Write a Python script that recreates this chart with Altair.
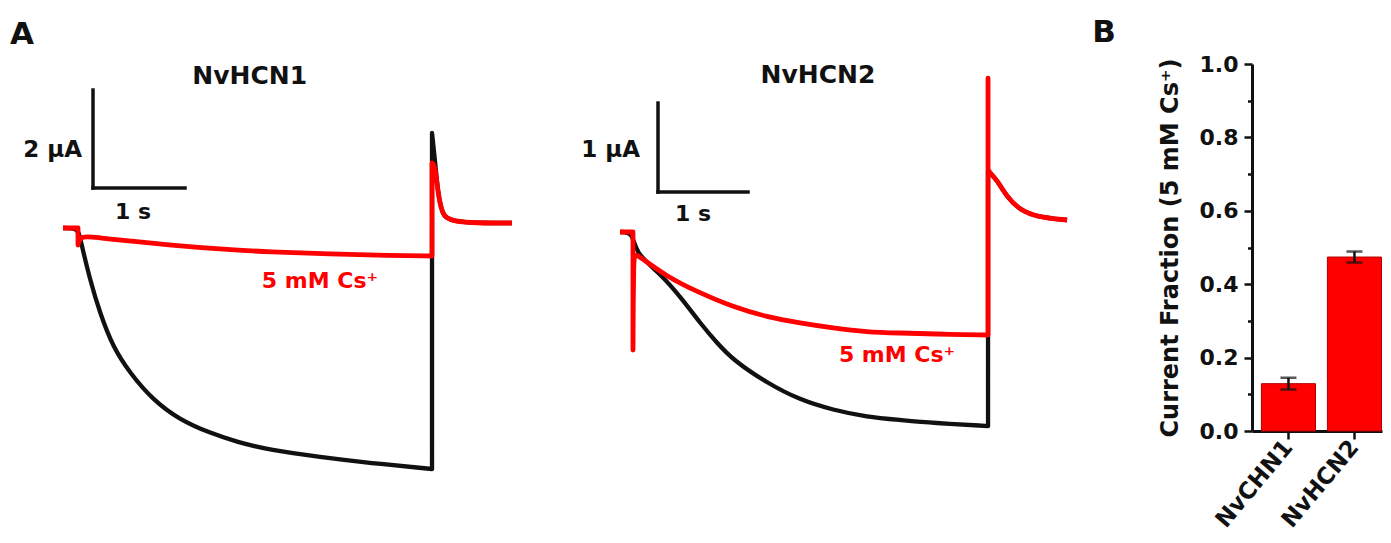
import altair as alt
import pandas as pd

FONT = "DejaVu Sans"
RED = "#FF0000"
BLACK = "#111111"

# ---------------- Panel A, NvHCN1 (time in s, current in uA) ----------------
hcn1_ctrl_t = [0.000, 0.163, 0.185, 0.293, 0.402, 0.543, 0.728, 0.978, 1.272, 1.598,
               1.891, 2.250, 2.793, 3.337, 4.011, 4.011, 4.043, 4.076, 4.109, 4.141,
               4.207, 4.391, 4.880]
hcn1_ctrl_i = [0.000, 0.000, -0.204, -1.061, -1.735, -2.429, -2.959, -3.510, -3.918, -4.184,
               -4.367, -4.531, -4.673, -4.796, -4.918, 1.939, 1.388, 0.714, 0.408, 0.245,
               0.163, 0.102, 0.102]
hcn1_cs_t = [0.000, 0.163, 0.163, 0.185, 0.402, 0.728, 1.163, 1.707, 2.250, 2.902,
             3.554, 4.011, 4.011, 4.043, 4.076, 4.109, 4.141, 4.207, 4.391, 4.880]
hcn1_cs_i = [0.000, 0.000, -0.347, -0.143, -0.204, -0.265, -0.347, -0.429, -0.490, -0.531,
             -0.561, -0.571, 1.327, 1.286, 0.714, 0.408, 0.245, 0.163, 0.102, 0.102]

# ---------------- Panel A, NvHCN2 ----------------
hcn2_ctrl_t = [0.000, 0.144, 0.167, 0.444, 0.700, 0.889, 1.078, 1.256, 1.633, 2.000,
               2.367, 2.744, 3.111, 3.478, 4.089, 4.089, 4.111, 4.189, 4.300, 4.444,
               4.633, 4.967]
hcn2_ctrl_i = [0.000, 0.000, -0.236, -0.461, -0.764, -1.022, -1.247, -1.438, -1.697, -1.888,
               -2.000, -2.079, -2.112, -2.146, -2.180, 0.700, 0.663, 0.584, 0.393, 0.247,
               0.169, 0.135]
hcn2_cs_t = [0.000, 0.144, 0.144, 0.150, 0.167, 0.522, 0.889, 1.256, 1.633, 2.000,
             2.367, 2.744, 3.111, 3.478, 4.089, 4.089, 4.089, 4.111, 4.189, 4.300,
             4.444, 4.633, 4.967]
hcn2_cs_i = [0.000, 0.000, -1.326, -0.250, -0.236, -0.506, -0.685, -0.843, -0.955, -1.022,
             -1.079, -1.124, -1.135, -1.146, -1.157, 1.730, 0.700, 0.663, 0.584, 0.393,
             0.247, 0.169, 0.135]

# scale bars: (anchor t, anchor i, seconds, microamps)
hcn1_scalebar = [0.326, 0.816, 1.0, 2.0]
hcn2_scalebar = [0.422, 0.449, 1.0, 1.0]

# ---------------- Panel B ----------------
categories = ["NvCHN1", "NvHCN2"]
fraction_mean = [0.129, 0.474]
fraction_sem = [0.016, 0.015]
major_ticks = [0.0, 0.2, 0.4, 0.6, 0.8, 1.0]
minor_ticks = [0.1, 0.3, 0.5, 0.7, 0.9]


def trace_df(t, i):
    # corner points (ends of the vertical voltage-step jumps) are repeated so that
    # the smoothing spline keeps the corner sharp
    rows = []
    n = len(t)
    for j in range(n):
        corner = (j > 0 and t[j - 1] == t[j]) or (j < n - 1 and t[j + 1] == t[j]) \
            or j in (0, n - 1)
        for _ in range(3 if corner else 1):
            rows.append((t[j], i[j]))
    return pd.DataFrame({"t": [r[0] for r in rows], "i": [r[1] for r in rows],
                         "k": list(range(len(rows)))})


def scalebar_df(sb):
    t0, i0, dt, di = sb
    return pd.DataFrame({"t": [t0, t0], "t2": [t0, t0 + dt],
                         "i": [i0, i0], "i2": [i0 + di, i0]})


def trace_panel(ctrl, cs, sb, xdom, ydom, w, h, title, title_pos, ua_text, ua_pos,
                s_pos, cs_pos, letter=None, letter_pos=None):
    X = alt.X("t:Q", scale=alt.Scale(domain=xdom, nice=False, zero=False), axis=None)
    Y = alt.Y("i:Q", scale=alt.Scale(domain=ydom, nice=False, zero=False), axis=None)
    black = alt.Chart(trace_df(*ctrl)).mark_line(
        color=BLACK, strokeWidth=4.3, strokeJoin="round", interpolate="basis", clip=True
    ).encode(x=X, y=Y, order="k:Q")
    red = alt.Chart(trace_df(*cs)).mark_line(
        color=RED, strokeWidth=4.8, strokeJoin="round", interpolate="basis", clip=True
    ).encode(x=X, y=Y, order="k:Q")
    bar = alt.Chart(scalebar_df(sb)).mark_rule(
        color=BLACK, strokeWidth=3.5, strokeCap="square"
    ).encode(x=X, x2="t2:Q", y=Y, y2="i2:Q")

    def txt(pos, label, size, color=BLACK, align="center", weight="bold"):
        df = pd.DataFrame({"t": [pos[0]], "i": [pos[1]], "label": [label]})
        return alt.Chart(df).mark_text(
            font=FONT, fontSize=size, fontWeight=weight, color=color,
            align=align, baseline="middle"
        ).encode(x=X, y=Y, text="label:N")

    layers = [black, red, bar,
              txt(title_pos, title, 25),
              txt(ua_pos, ua_text, 23, align="right"),
              txt(s_pos, "1 s", 22),
              txt(cs_pos, "5 mM Cs\u207a", 22, color=RED)]
    if letter:
        layers.append(alt.Chart(pd.DataFrame({"a": [0]})).mark_text(
            font=FONT, fontSize=31, fontWeight="bold", color=BLACK,
            align="center", baseline="middle", text=letter
        ).encode(x=alt.value(letter_pos[0]), y=alt.value(letter_pos[1])))
    return alt.layer(*layers).properties(width=w, height=h)


a1 = trace_panel((hcn1_ctrl_t, hcn1_ctrl_i), (hcn1_cs_t, hcn1_cs_i), hcn1_scalebar,
                 [-0.598, 5.500], [-6.224, 4.490], 561, 525,
                 "NvHCN1", (2.03, 3.10), "2 \u03bcA", (0.207, 1.592),
                 (0.761, 0.327), (2.793, -1.082), letter="A", letter_pos=(14, 27))

a2 = trace_panel((hcn2_ctrl_t, hcn2_ctrl_i), (hcn2_cs_t, hcn2_cs_i), hcn2_scalebar,
                 [-0.567, 7.022], [-3.382, 2.517], 683, 525,
                 "NvHCN2", (2.20, 1.764), "1 \u03bcA", (0.222, 0.921),
                 (0.811, 0.202), (3.078, -1.382))

bar_df = pd.DataFrame({
    "cat": categories,
    "mean": fraction_mean,
    "lo": [m - s for m, s in zip(fraction_mean, fraction_sem)],
    "hi": [m + s for m, s in zip(fraction_mean, fraction_sem)],
})

xb = alt.X("cat:N", sort=categories,
           scale=alt.Scale(domain=categories, paddingInner=0.18, paddingOuter=0.075, align=0.95),
           axis=alt.Axis(title=None, labelAngle=-50, labelAlign="right", labelBaseline="middle",
                         labelFont=FONT, labelFontWeight="bold", labelFontSize=23,
                         labelColor=BLACK, labelPadding=4, labelOverlap=False,
                         tickSize=8, tickWidth=2.5, tickColor=BLACK,
                         domainColor=BLACK, domainWidth=3))
yscale = alt.Scale(domain=[0, 1], range=[423, 56], nice=False, zero=True)
yb = alt.Y("mean:Q", scale=yscale,
           axis=alt.Axis(values=major_ticks, format=".1f",
                         title="Current Fraction (5 mM Cs\u207a)",
                         titleFont=FONT, titleFontSize=24, titleFontWeight="bold",
                         titleColor=BLACK, titlePadding=17,
                         labelFont=FONT, labelFontSize=22, labelFontWeight="bold",
                         labelColor=BLACK, labelPadding=6, labelOverlap=False,
                         labelFlush=False, tickSize=8, tickWidth=2.5, tickColor=BLACK,
                         domainColor=BLACK, domainWidth=3, grid=False))
yminor = alt.Y("lo:Q", scale=yscale,
               axis=alt.Axis(values=minor_ticks, orient="left", labels=False, domain=False,
                             title=None, tickSize=4.5, tickWidth=2.5, tickColor=BLACK,
                             grid=False))

bars = alt.Chart(bar_df).mark_bar(color=RED, stroke="#B00000", strokeWidth=1).encode(x=xb, y=yb)
err = alt.Chart(bar_df).mark_rule(color=BLACK, strokeWidth=2.5).encode(x=xb, y=yminor, y2="hi:Q")
cap_lo = alt.Chart(bar_df).mark_tick(color=BLACK, thickness=2.5, size=16).encode(
    x=xb, y=alt.Y("lo:Q", scale=yscale, axis=None))
cap_hi = alt.Chart(bar_df).mark_tick(color=BLACK, thickness=2.5, size=16).encode(
    x=xb, y=alt.Y("hi:Q", scale=yscale, axis=None))
letter_b = alt.Chart(pd.DataFrame({"a": [0]})).mark_text(
    font=FONT, fontSize=31, fontWeight="bold", color=BLACK, align="center",
    baseline="middle", text="B").encode(x=alt.value(-148), y=alt.value(25))

b = alt.layer(bars, err, cap_lo, cap_hi, letter_b).resolve_axis(y="independent").properties(
    width=130, height=423)

chart = alt.hconcat(a1, a2, b, spacing=0, bounds="flush").properties(
    padding=0
).configure(background="white").configure_view(strokeWidth=0, stroke=None)

chart.save("out.html", embed_options={"renderer": "svg", "actions": False})
